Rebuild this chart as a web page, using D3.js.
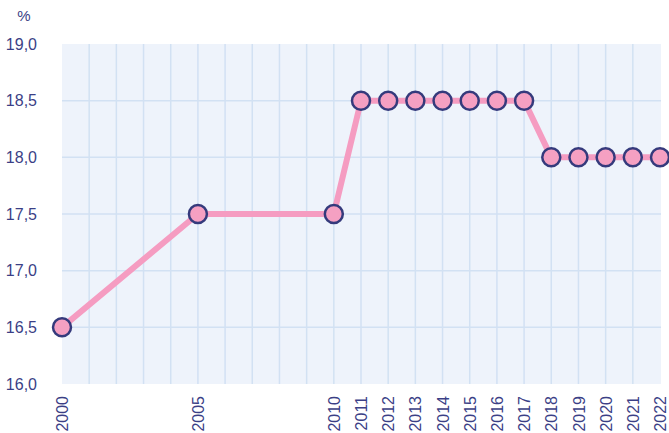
<!DOCTYPE html>
<html>
<head>
<meta charset="utf-8">
<script src="https://cdn.jsdelivr.net/npm/d3@7"></script>
<style>
  body { margin: 0; background: #fff; }
  svg { display: block; font-family: "Liberation Sans", Arial, sans-serif; }
</style>
</head>
<body>
<svg id="chart" width="669" height="433"></svg>
<script>
const years = [2000, 2005, 2010, 2011, 2012, 2013, 2014, 2015, 2016, 2017, 2018, 2019, 2020, 2021, 2022];
const values = [16.5, 17.5, 17.5, 18.5, 18.5, 18.5, 18.5, 18.5, 18.5, 18.5, 18.0, 18.0, 18.0, 18.0, 18.0];
const yTicks = [16.0, 16.5, 17.0, 17.5, 18.0, 18.5, 19.0];

const svg = d3.select("#chart");
const margin = { top: 44, right: 9, bottom: 49, left: 62 };
const width = 669, height = 433;
const textColor = "#3b3f86";

const x = d3.scaleLinear().domain([2000, 2022]).range([margin.left, width - margin.right]);
const y = d3.scaleLinear().domain([16, 19]).range([height - margin.bottom, margin.top]);

// plot background
svg.append("rect")
  .attr("x", margin.left)
  .attr("y", margin.top)
  .attr("width", width - margin.right - margin.left + 1)
  .attr("height", height - margin.bottom - margin.top)
  .attr("fill", "#eef3fb");

// grid
const grid = svg.append("g").attr("stroke", "#d2e1f3").attr("stroke-width", 1.5);
grid.selectAll("line.v")
  .data(d3.range(2001, 2022))
  .join("line")
  .attr("class", "v")
  .attr("x1", (d) => x(d)).attr("x2", (d) => x(d))
  .attr("y1", margin.top).attr("y2", height - margin.bottom);
grid.selectAll("line.h")
  .data(yTicks.slice(1, -1))
  .join("line")
  .attr("class", "h")
  .attr("x1", margin.left).attr("x2", width - margin.right + 1)
  .attr("y1", (d) => y(d)).attr("y2", (d) => y(d));

// y axis labels
const yAxis = svg.append("g")
  .attr("transform", `translate(${margin.left - 25},0)`)
  .call(d3.axisLeft(y).tickValues(yTicks).tickSize(0).tickPadding(0)
    .tickFormat((d) => d3.format(".1f")(d).replace(".", ",")));
yAxis.select(".domain").remove();
yAxis.selectAll("text").attr("fill", textColor).style("font-size", "16px");

svg.append("text")
  .attr("x", 24).attr("y", 21)
  .attr("text-anchor", "middle")
  .attr("fill", textColor)
  .style("font-size", "15px")
  .text("%");

// x axis labels
const xAxis = svg.append("g")
  .attr("transform", `translate(0,${height - margin.bottom})`)
  .call(d3.axisBottom(x).tickValues(years).tickSize(0).tickFormat(d3.format("d")));
xAxis.select(".domain").remove();
xAxis.selectAll("text")
  .attr("fill", textColor)
  .style("font-size", "16px")
  .attr("text-anchor", "end")
  .attr("transform", "rotate(-90)")
  .attr("x", -12)
  .attr("y", 0)
  .attr("dy", "0.35em");

// line
const line = d3.line().x((d, i) => x(years[i])).y((d) => y(d));
svg.append("path")
  .datum(values)
  .attr("fill", "none")
  .attr("stroke", "#f59cc1")
  .attr("stroke-width", 6)
  .attr("stroke-linejoin", "round")
  .attr("d", line);

// points
svg.append("g")
  .selectAll("circle")
  .data(values)
  .join("circle")
  .attr("cx", (d, i) => x(years[i]))
  .attr("cy", (d) => y(d))
  .attr("r", 9)
  .attr("fill", "#f5a0c2")
  .attr("stroke", "#353a7c")
  .attr("stroke-width", 2.5);
</script>
</body>
</html>
